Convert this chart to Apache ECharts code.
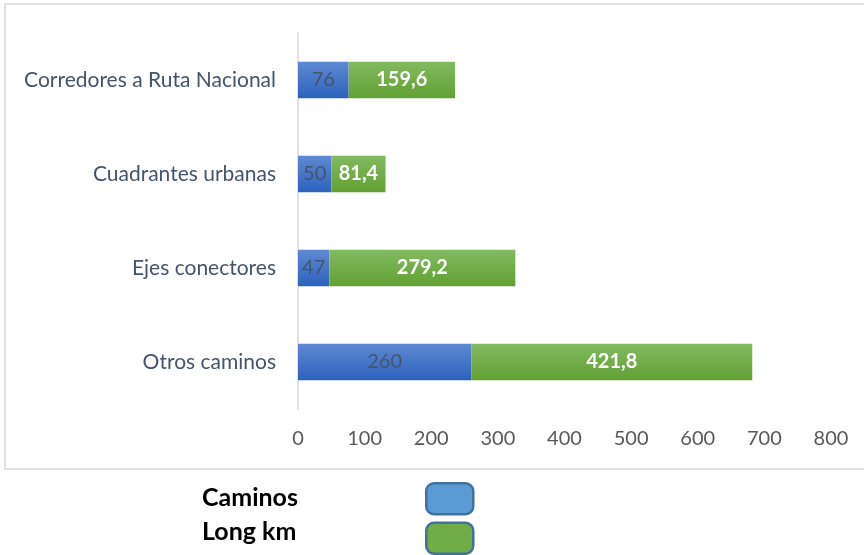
<!DOCTYPE html>
<html>
<head>
<meta charset="utf-8">
<script src="https://cdn.jsdelivr.net/npm/echarts@6/dist/echarts.min.js"></script>
<style>html,body{margin:0;padding:0;background:#fff}#c{width:864px;height:555px}</style>
</head>
<body>
<div id="c"></div>
<script>
var categories = ['Otros caminos', 'Ejes conectores', 'Cuadrantes urbanas', 'Corredores a Ruta Nacional'];
var caminos = [260, 47, 50, 76];
var longKm = [421.8, 279.2, 81.4, 159.6];
var seriesNames = ['Caminos', 'Long km'];
var xTicks = [0, 100, 200, 300, 400, 500, 600, 700, 800];

var FONT = 'Lato';
function fmt(v) { return String(v).replace('.', ','); }

var chart = echarts.init(document.getElementById('c'));
chart.setOption({
  animation: false,
  backgroundColor: '#fff',
  textStyle: { fontFamily: FONT },
  graphic: [{
    type: 'rect', shape: { x: 5, y: 4, width: 880, height: 465 },
    style: { fill: 'none', stroke: '#D9D9D9', lineWidth: 1.5 }, z: -1, silent: true
  }],
  grid: { left: 298, right: 33, top: 33, bottom: 146, containLabel: false },
  xAxis: {
    type: 'value', min: xTicks[0], max: xTicks[xTicks.length - 1], interval: 100,
    axisLine: { show: false }, axisTick: { show: false }, splitLine: { show: false },
    axisLabel: { color: '#595959', fontSize: 20, margin: 20, fontFamily: FONT }
  },
  yAxis: {
    type: 'category', data: categories,
    axisLine: { show: true, lineStyle: { color: '#D9D9D9', width: 1.5 } },
    axisTick: { show: false },
    axisLabel: { color: '#44546A', fontSize: 21, margin: 22, fontFamily: FONT }
  },
  legend: [
    {
      orient: 'vertical', left: 425, top: 482, padding: 0,
      itemWidth: 47, itemHeight: 31, itemGap: 6, icon: 'roundRect',
      selectedMode: false,
      formatter: function () { return ''; },
      textStyle: { fontSize: 24 },
      data: [
        { name: seriesNames[0], itemStyle: { color: '#5B9BD5', borderColor: '#41719C', borderWidth: 2.5 } },
        { name: seriesNames[1], itemStyle: { color: '#70AD47', borderColor: '#41719C', borderWidth: 2.5 } }
      ]
    },
    {
      orient: 'vertical', left: 197, top: 482, padding: 0,
      itemWidth: 0, itemHeight: 31, itemGap: 6, icon: 'none',
      selectedMode: false,
      textStyle: { fontSize: 25, fontWeight: 'bold', color: '#000', fontFamily: FONT },
      data: seriesNames
    }
  ],
  series: [
    {
      name: seriesNames[0], type: 'bar', stack: 't', data: caminos, barWidth: '39%',
      itemStyle: { color: new echarts.graphic.LinearGradient(0, 0, 0, 1, [
        { offset: 0, color: '#5F89D3' }, { offset: 1, color: '#2C62BD' }]) },
      label: { show: true, position: 'inside', color: '#44546A', fontSize: 20, fontFamily: FONT, formatter: function (p) { return fmt(p.value); } }
    },
    {
      name: seriesNames[1], type: 'bar', stack: 't', data: longKm, barWidth: '39%',
      itemStyle: { color: new echarts.graphic.LinearGradient(0, 0, 0, 1, [
        { offset: 0, color: '#82BA60' }, { offset: 1, color: '#62A033' }]) },
      label: { show: true, position: 'inside', color: '#fff', fontSize: 20, fontWeight: 'bold', fontFamily: FONT, formatter: function (p) { return fmt(p.value); } }
    }
  ]
});
</script>
</body>
</html>
